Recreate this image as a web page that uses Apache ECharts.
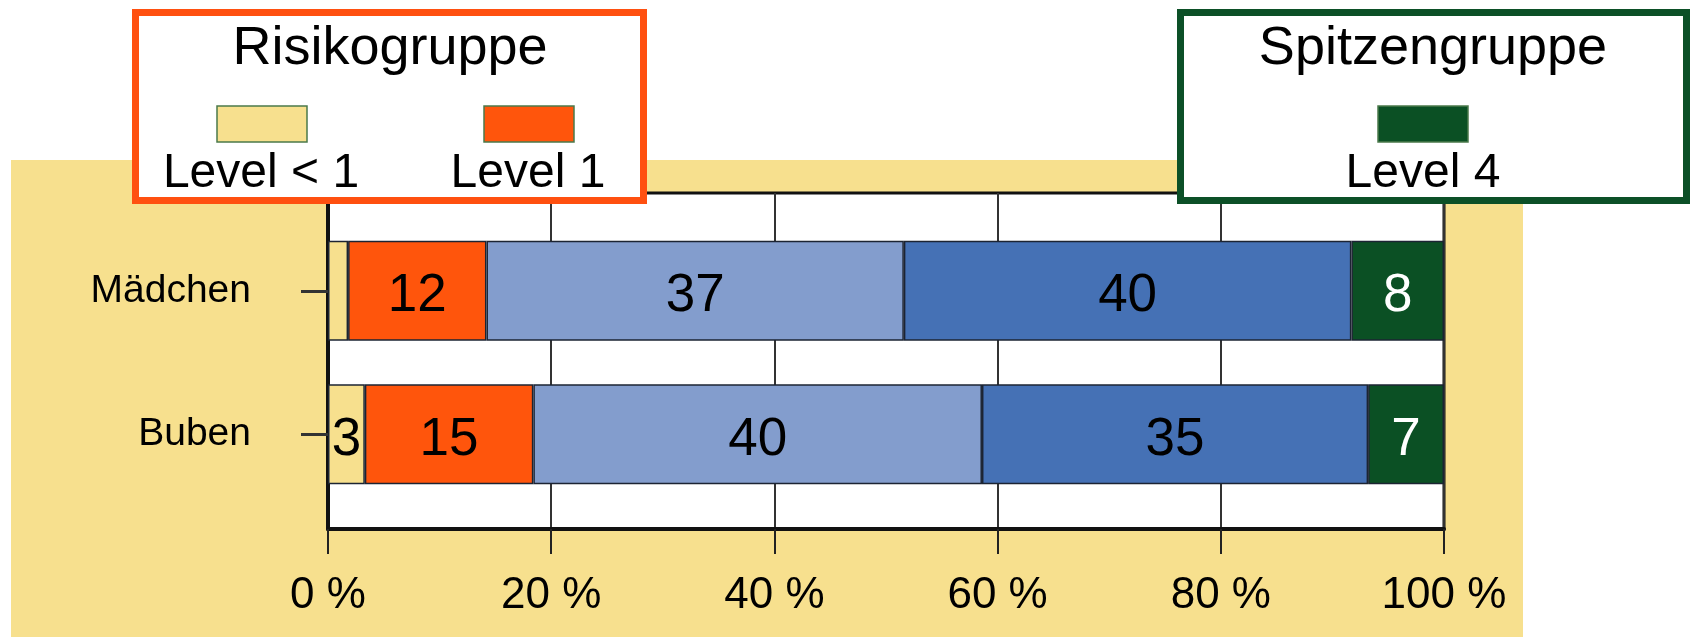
<!DOCTYPE html>
<html>
<head>
<meta charset="utf-8">
<script src="https://cdn.jsdelivr.net/npm/echarts@6/dist/echarts.min.js"></script>
<style>
  html, body { margin: 0; padding: 0; background: #fff; }
  #chart { width: 1699px; height: 637px; }
</style>
</head>
<body>
<div id="chart"></div>
<script>
// Kategorien (y-Achse)
const categories = ['Mädchen', 'Buben']
// Anteile in Prozent je Kompetenzstufe
const levelBelow1 = [1.8, 3.3]
const level1 = [12.4, 15.1]
const level2 = [37.4, 40.2]
const level3 = [40.1, 34.6]
const level4 = [8.3, 6.8]
const seriesNames = ['Level < 1', 'Level 1', 'Level 2', 'Level 3', 'Level 4']
const levelColors = ['#f7e08e', '#ff550c', '#839dcd', '#4571b5', '#0b5024']
const labelColors = ['#000', '#000', '#000', '#000', '#fff']

const FONT = '"Liberation Sans", Arial, sans-serif'
const chart = echarts.init(document.getElementById('chart'))

const allLevels = [levelBelow1, level1, level2, level3, level4]

const series = allLevels.map((values, i) => ({
  name: seriesNames[i],
  type: 'bar',
  stack: 'total',
  xAxisIndex: 1,
  yAxisIndex: 1,
  barWidth: 100,
  data: values,
  itemStyle: {
    color: levelColors[i],
    borderColor: '#1c2433',
    borderWidth: 1.5
  },
  label: {
    show: true,
    position: 'inside',
    offset: [0, 6],
    fontFamily: FONT,
    fontSize: 53,
    color: labelColors[i],
    // zu schmale Segmente ohne Zahl
    formatter: p => (p.value >= 2.5 ? String(Math.round(p.value)) : '')
  }
}))

// Legendenkasten: Rahmen, Titel, Farbfelder mit Text darunter
const legendBox = (x, w, color, title, titleX, items) => {
  const els = [
    {
      type: 'rect',
      shape: { x: x + 3.5, y: 12.5, width: w - 7, height: 188 },
      style: { fill: '#fff', stroke: color, lineWidth: 7 },
      z: 20
    },
    {
      type: 'text',
      x: titleX, y: 49,
      style: { text: title, font: '54px ' + FONT, fill: '#000', align: 'center', verticalAlign: 'middle' },
      z: 21
    }
  ]
  items.forEach(it => {
    els.push({
      type: 'rect',
      shape: { x: it.sx, y: 106, width: 90, height: 36 },
      style: { fill: levelColors[it.idx], stroke: '#4b7a4b', lineWidth: 1.5 },
      z: 21
    })
    els.push({
      type: 'text',
      x: it.tx, y: 174,
      style: { text: seriesNames[it.idx], font: '48px ' + FONT, fill: '#000', align: 'center', verticalAlign: 'middle' },
      z: 21
    })
  })
  return els
}

const option = {
  animation: false,
  backgroundColor: '#fff',
  graphic: [
    // gelber Hintergrund
    {
      type: 'rect',
      shape: { x: 11, y: 160, width: 1512, height: 477 },
      style: { fill: '#f7e08e' },
      z: -10
    },
    ...legendBox(132, 515, '#ff5010', 'Risikogruppe', 390, [
      { idx: 0, sx: 217, tx: 261 },
      { idx: 1, sx: 484, tx: 528 }
    ]),
    ...legendBox(1177, 513, '#0c5027', 'Spitzengruppe', 1433, [
      { idx: 4, sx: 1378, tx: 1423 }
    ])
  ],
  grid: [
    // Rahmen mit weißem Hintergrund
    {
      left: 328, top: 193, width: 1116, height: 336,
      show: true,
      backgroundColor: '#fff',
      borderColor: '#111',
      borderWidth: 3
    },
    // Balkenbereich
    {
      left: 328, top: 219, width: 1116, height: 287
    }
  ],
  xAxis: [
    {
      gridIndex: 0,
      type: 'value',
      min: 0,
      max: 100,
      interval: 20,
      axisLine: { show: true, lineStyle: { color: '#111', width: 4 } },
      axisTick: { show: true, length: 25, lineStyle: { color: '#222', width: 2 } },
      axisLabel: {
        margin: 45,
        fontFamily: FONT,
        fontSize: 44,
        color: '#000',
        formatter: '{value} %'
      },
      splitLine: { show: true, lineStyle: { color: '#333', width: 2 } }
    },
    {
      gridIndex: 1,
      type: 'value',
      min: 0,
      max: 100,
      show: false
    }
  ],
  yAxis: [
    {
      gridIndex: 0,
      type: 'value',
      axisLine: { show: true, lineStyle: { color: '#111', width: 4 } },
      axisTick: { show: false },
      axisLabel: { show: false },
      splitLine: { show: false }
    },
    {
      gridIndex: 1,
      type: 'category',
      data: categories,
      inverse: true,
      axisLine: { show: false },
      axisTick: { show: true, alignWithLabel: true, length: 27, lineStyle: { color: '#333', width: 3 } },
      axisLabel: {
        margin: 77,
        fontFamily: FONT,
        fontSize: 39,
        color: '#000'
      }
    }
  ],
  series: series
}

chart.setOption(option)
</script>
</body>
</html>
